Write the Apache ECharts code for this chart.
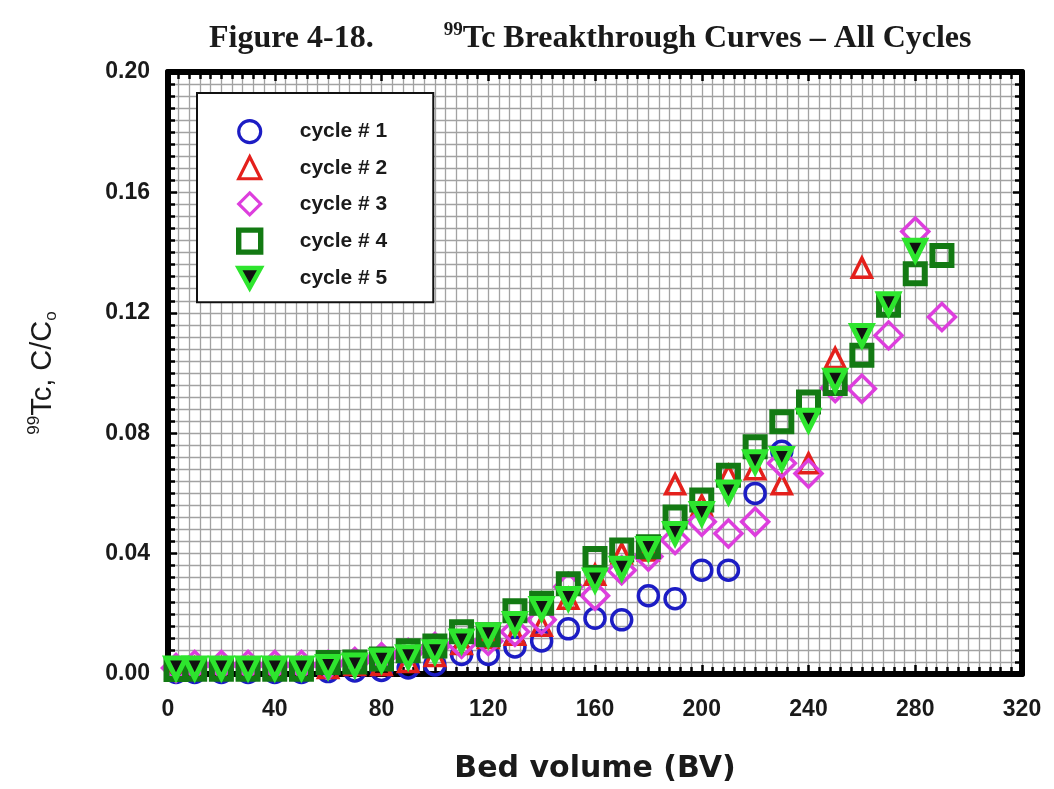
<!DOCTYPE html>
<html>
<head>
<meta charset="utf-8">
<title>99Tc Breakthrough Curves</title>
<script src="https://cdn.jsdelivr.net/npm/echarts@6/dist/echarts.min.js"></script>
<style>
  html, body { margin: 0; padding: 0; background: #fff; }
  #chart { width: 1054px; height: 789px; }
</style>
</head>
<body>
<div id="chart"></div>
<script>
// bed volumes (BV) shared by all cycles, each cycle stops at its own last point
const bedVolumes = [3, 10, 20, 30, 40, 50, 60, 70, 80, 90, 100, 110, 120, 130, 140,
  150, 160, 170, 180, 190, 200, 210, 220, 230, 240, 250, 260, 270, 280, 290];

const cycle1 = [0.0005, 0.0005, 0.0005, 0.0005, 0.0005, 0.0005, 0.0008, 0.001, 0.0012, 0.002,
  0.003, 0.0065, 0.0065, 0.009, 0.011, 0.015, 0.0185, 0.018, 0.026, 0.025,
  0.0345, 0.0345, 0.060, 0.074];
const cycle2 = [0.002, 0.002, 0.002, 0.002, 0.002, 0.002, 0.002, 0.003, 0.003, 0.004,
  0.006, 0.010, 0.012, 0.013, 0.016, 0.025, 0.033, 0.040, 0.041, 0.063,
  0.056, 0.066, 0.068, 0.063, 0.070, 0.105, 0.135];
const cycle3 = [0.002, 0.003, 0.003, 0.003, 0.003, 0.003, 0.003, 0.004, 0.0056, 0.007,
  0.009, 0.010, 0.011, 0.014, 0.018, 0.029, 0.026, 0.0345, 0.039, 0.0445,
  0.0506, 0.0467, 0.0506, 0.070, 0.0666, 0.095, 0.0948, 0.1125, 0.147, 0.1186];
const cycle4 = [0.0015, 0.0016, 0.0016, 0.0016, 0.0016, 0.0016, 0.0038, 0.004, 0.005, 0.0077,
  0.0093, 0.014, 0.013, 0.021, 0.0235, 0.030, 0.0384, 0.0412, 0.0423, 0.0522,
  0.0578, 0.066, 0.0755, 0.0838, 0.0904, 0.0965, 0.1059, 0.1225, 0.133, 0.139];
const cycle5 = [0.002, 0.002, 0.002, 0.002, 0.002, 0.002, 0.0025, 0.003, 0.0046, 0.0057,
  0.0074, 0.011, 0.013, 0.0168, 0.0218, 0.0251, 0.0312, 0.0351, 0.0417, 0.0467,
  0.0533, 0.0605, 0.0705, 0.0716, 0.0843, 0.0976, 0.1125, 0.123, 0.1408];

const seriesNames = ["cycle # 1", "cycle # 2", "cycle # 3", "cycle # 4", "cycle # 5"];
const xTicks = { min: 0, max: 320, interval: 40 };
const yTicks = { min: 0, max: 0.2, interval: 0.04 };

function pairs(values) {
  return values.map((v, i) => [bedVolumes[i], v]);
}

const markerStyles = [
  { symbol: "circle", size: 20, color: "#1c1cc4", fill: "transparent", width: 3.5 },
  { symbol: "triangle", size: 19, color: "#e4201c", fill: "transparent", width: 3.5 },
  { symbol: "diamond", size: 27, color: "#dd3edd", fill: "transparent", width: 3.5 },
  { symbol: "rect", size: 19, color: "#137a13", fill: "transparent", width: 6 },
  { symbol: "triangle", size: 20, color: "#2ee52e", fill: "#111", width: 5, rotate: 180 },
];
const cycleData = [cycle1, cycle2, cycle3, cycle4, cycle5];

// the legend icon is not rotated, so cycle 5 gets a downward triangle path
const downTriangle = "path://M0,0L20,0L10,18Z";

// onZero off, otherwise the top/right frame axes snap onto the bottom/left
const frameLine = { show: true, onZero: false, lineStyle: { color: "#000", width: 6 } };
const frameTick = { show: true, inside: true, length: 9, lineStyle: { color: "#000", width: 2.5 } };
const frameMinorTick = { show: true, splitNumber: 10, length: 7, lineStyle: { color: "#000", width: 2.5 } };
const gridLine = { show: true, lineStyle: { color: "#a2a2a2", width: 1.3 } };

const tickFont = { color: "#1a1a1a", fontSize: 23, fontWeight: "bold", fontFamily: "Liberation Sans" };

const chart = echarts.init(document.getElementById("chart"), null, { renderer: "canvas" });

const option = {
  animation: false,
  backgroundColor: "#fff",
  title: {
    text: "{t|Figure 4-18.}{sup|99}{t|Tc Breakthrough Curves – All Cycles}",
    left: 204,
    top: 16,
    textStyle: {
      rich: {
        t: { fontFamily: "Liberation Serif", fontWeight: "bold", fontSize: 32, color: "#1a1a1a", lineHeight: 36 },
        sup: { fontFamily: "Liberation Serif", fontWeight: "bold", fontSize: 19, color: "#1a1a1a", verticalAlign: "top", lineHeight: 36, padding: [0, 0, 12, 70] },
      },
    },
  },
  grid: { left: 168, right: 32, top: 72, bottom: 115 },
  legend: {
    orient: "vertical",
    left: 197,
    top: 93,
    padding: [26, 46, 12, 39],
    itemWidth: 22,
    itemHeight: 22,
    itemGap: 11,
    backgroundColor: "#fff",
    borderColor: "#111",
    borderWidth: 2,
    textStyle: { color: "#1a1a1a", fontSize: 21, fontWeight: "bold", fontFamily: "Liberation Sans", padding: [0, 0, 0, 34] },
    data: seriesNames.map((name, i) => ({
      name: name,
      icon: i === 4 ? downTriangle : undefined,
      itemStyle: { borderWidth: markerStyles[i].width * 0.9 },
    })),
  },
  xAxis: [
    {
      type: "value",
      position: "bottom",
      min: xTicks.min,
      max: xTicks.max,
      interval: xTicks.interval,
      name: "Bed volume (BV)",
      nameLocation: "middle",
      nameGap: 80,
      nameTextStyle: { color: "#1a1a1a", fontSize: 30, fontWeight: "bold", fontFamily: "DejaVu Sans" },
      axisLine: frameLine,
      axisTick: frameTick,
      minorTick: frameMinorTick,
      axisLabel: Object.assign({ margin: 24 }, tickFont),
      splitLine: gridLine,
      minorSplitLine: gridLine,
    },
    {
      type: "value",
      position: "top",
      min: xTicks.min,
      max: xTicks.max,
      interval: xTicks.interval,
      axisLine: frameLine,
      axisTick: frameTick,
      minorTick: frameMinorTick,
      axisLabel: { show: false },
      splitLine: { show: false },
    },
  ],
  yAxis: [
    {
      type: "value",
      position: "left",
      min: yTicks.min,
      max: yTicks.max,
      interval: yTicks.interval,
      name: "{sup|99}{n|Tc, C/C}{sub|o}",
      nameLocation: "middle",
      nameRotate: 90,
      nameGap: 108,
      nameTextStyle: {
        rich: {
          n: { fontFamily: "Liberation Sans", fontSize: 29, color: "#1a1a1a", lineHeight: 34 },
          sup: { fontFamily: "Liberation Sans", fontSize: 17, color: "#1a1a1a", verticalAlign: "top", lineHeight: 34 },
          sub: { fontFamily: "Liberation Sans", fontSize: 17, color: "#1a1a1a", verticalAlign: "bottom", lineHeight: 34 },
        },
      },
      axisLine: frameLine,
      axisTick: frameTick,
      minorTick: frameMinorTick,
      axisLabel: Object.assign({ margin: 18, formatter: (v) => v.toFixed(2) }, tickFont),
      splitLine: gridLine,
      minorSplitLine: gridLine,
    },
    {
      type: "value",
      position: "right",
      min: yTicks.min,
      max: yTicks.max,
      interval: yTicks.interval,
      axisLine: frameLine,
      axisTick: frameTick,
      minorTick: frameMinorTick,
      axisLabel: { show: false },
      splitLine: { show: false },
    },
  ],
  series: cycleData.map((values, i) => {
    const m = markerStyles[i];
    return {
      name: seriesNames[i],
      type: "scatter",
      xAxisIndex: 0,
      yAxisIndex: 0,
      symbol: m.symbol,
      symbolSize: m.size,
      symbolRotate: m.rotate || 0,
      itemStyle: { color: m.fill, borderColor: m.color, borderWidth: m.width, opacity: 1 },
      emphasis: { disabled: true },
      data: pairs(values),
    };
  }),
};

chart.setOption(option);
</script>
</body>
</html>
